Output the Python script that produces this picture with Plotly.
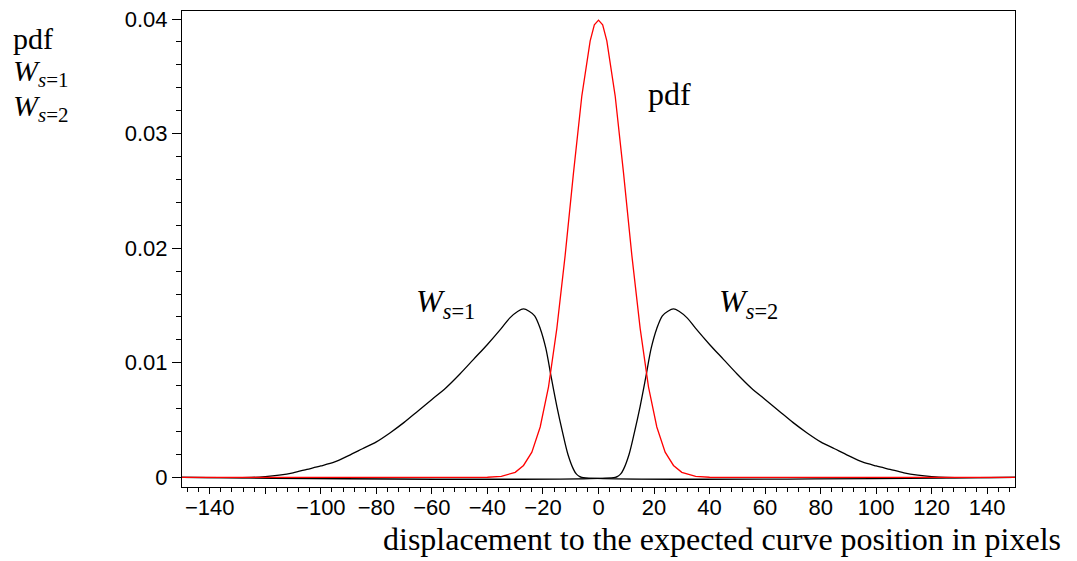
import plotly.graph_objects as go

# ---- data ----
pdf_x = [-150, -45, -40, -35, -30, -27, -24, -21, -18, -15, -12, -9, -6, -3, -1.5, 0,
         1.5, 3, 6, 9, 12, 15, 18, 21, 24, 27, 30, 35, 40, 45, 150]
pdf_y = [0, 0, 0.00001, 0.00009, 0.00044, 0.00104, 0.0022, 0.0044, 0.0079, 0.0130, 0.0194,
         0.0266, 0.0333, 0.0381, 0.0395, 0.0399,
         0.0395, 0.0381, 0.0333, 0.0266, 0.0194, 0.0130, 0.0079, 0.0044, 0.0022, 0.00104,
         0.00044, 0.00009, 0.00001, 0, 0]

w1_x = [-150, -125, -120, -115, -110, -105, -100, -95, -90, -85, -80, -75, -70, -65, -60,
        -55, -50, -45, -40, -35, -32, -29, -27, -25, -23, -21, -19, -17, -15, -13, -11,
        -9, -8, -7, -6, 150]
w1_y = [0, 0, 0.00007, 0.0002, 0.0004, 0.0007, 0.0010, 0.00135, 0.0019, 0.0025, 0.0031,
        0.0039, 0.0048, 0.0058, 0.0068, 0.0078, 0.0090, 0.0103, 0.0116, 0.0130, 0.0139,
        0.0145, 0.0147, 0.0145, 0.0141, 0.0130, 0.0113, 0.0087, 0.0062, 0.0040, 0.0020,
        0.0007, 0.0003, 0.0001, 0, 0]

w2_x = [-150, 6, 7, 8, 9, 11, 13, 15, 17, 19, 21, 23, 25, 27, 29, 32, 35, 40, 45, 50, 55,
        60, 65, 70, 75, 80, 85, 90, 95, 100, 105, 110, 115, 120, 125, 150]
w2_y = [0, 0, 0.0001, 0.0003, 0.0007, 0.0020, 0.0040, 0.0062, 0.0087, 0.0113, 0.0130,
        0.0141, 0.0145, 0.0147, 0.0145, 0.0139, 0.0130, 0.0116, 0.0103, 0.0090, 0.0078,
        0.0068, 0.0058, 0.0048, 0.0039, 0.0031, 0.0025, 0.0019, 0.00135, 0.0010, 0.0007,
        0.0004, 0.0002, 0.00007, 0, 0]

x_tickvals = [-140, -120, -100, -80, -60, -40, -20, 0, 20, 40, 60, 80, 100, 120, 140]
x_ticktext = ["−140", "", "−100", "−80", "−60", "−40", "−20", "0", "20", "40", "60",
              "80", "100", "120", "140"]
y_tickvals = [0, 0.01, 0.02, 0.03, 0.04]
y_ticktext = ["0", "0.01", "0.02", "0.03", "0.04"]

W, H = 1077, 561
ML, MR, MT, MB = 182, 62, 7, 74

fig = go.Figure()
fig.add_trace(go.Scatter(x=w1_x, y=w1_y, mode="lines",
                         line=dict(color="black", width=1.3, shape="spline", smoothing=0.9),
                         showlegend=False))
fig.add_trace(go.Scatter(x=w2_x, y=w2_y, mode="lines",
                         line=dict(color="black", width=1.3, shape="spline", smoothing=0.9),
                         showlegend=False))
fig.add_trace(go.Scatter(x=pdf_x, y=pdf_y, mode="lines", line=dict(color="red", width=1.3),
                         showlegend=False))

SERIF = "Liberation Serif, Times New Roman, serif"
SANS = "Liberation Sans, Arial, sans-serif"

fig.update_layout(
    width=W, height=H,
    margin=dict(l=ML, r=MR, t=MT, b=MB),
    paper_bgcolor="white", plot_bgcolor="white",
    xaxis=dict(range=[-150, 150], tickvals=x_tickvals, ticktext=x_ticktext,
               ticks="outside", ticklen=6, tickcolor="black", showgrid=False,
               zeroline=False, showline=True, linecolor="black", linewidth=1, mirror=True,
               ticklabelstandoff=-5,
               tickfont=dict(family=SANS, size=22, color="black"),
               minor=dict(dtick=4, tick0=0, ticks="outside", ticklen=4, tickcolor="black",
                          showgrid=False)),
    yaxis=dict(range=[-0.00084, 0.0407], tickvals=y_tickvals, ticktext=y_ticktext,
               ticks="outside", ticklen=9, tickcolor="black", showgrid=False,
               zeroline=False, showline=True, linecolor="black", linewidth=1, mirror=True,
               tickfont=dict(family=SANS, size=22, color="black"),
               minor=dict(dtick=0.002, tick0=0, ticks="outside", ticklen=5,
                          tickcolor="black", showgrid=False)),
)


def paper_xy(px, py):
    # screen pixels -> paper coords (relative to the plot area)
    return (px - ML) / (W - ML - MR), (H - MB - py) / (H - MT - MB)


for txt, px, py in [("pdf", 11, 35), ("<i>W</i><sub><i>s</i>=1</sub>", 11, 70),
                    ("<i>W</i><sub><i>s</i>=2</sub>", 11, 105)]:
    xp, yp = paper_xy(px, py)
    fig.add_annotation(text=txt, x=xp, y=yp, xref="paper", yref="paper", xanchor="left",
                       yanchor="middle", showarrow=False,
                       font=dict(family=SERIF, size=30, color="black"))

# labels inside the plot (data coordinates)
fig.add_annotation(text="pdf", x=17.0, y=0.0335, xanchor="left", yanchor="middle",
                   showarrow=False, font=dict(family=SERIF, size=32, color="black"))
fig.add_annotation(text="<i>W</i><sub><i>s</i>=1</sub>", x=-66.5, y=0.0152, xanchor="left",
                   yanchor="middle", showarrow=False,
                   font=dict(family=SERIF, size=32, color="black"))
fig.add_annotation(text="<i>W</i><sub><i>s</i>=2</sub>", x=42.5, y=0.0152, xanchor="left",
                   yanchor="middle", showarrow=False,
                   font=dict(family=SERIF, size=32, color="black"))

# x-axis title, right aligned beyond the plot area
xp, yp = paper_xy(1063, 539)
fig.add_annotation(text="displacement to the expected curve position in pixels", x=xp, y=yp,
                   xref="paper", yref="paper", xanchor="right", yanchor="middle",
                   showarrow=False, font=dict(family=SERIF, size=32, color="black"))

fig.write_html("out.html", config={"displayModeBar": False},
               post_script="document.body.style.margin='0';document.body.style.overflow='hidden';")
